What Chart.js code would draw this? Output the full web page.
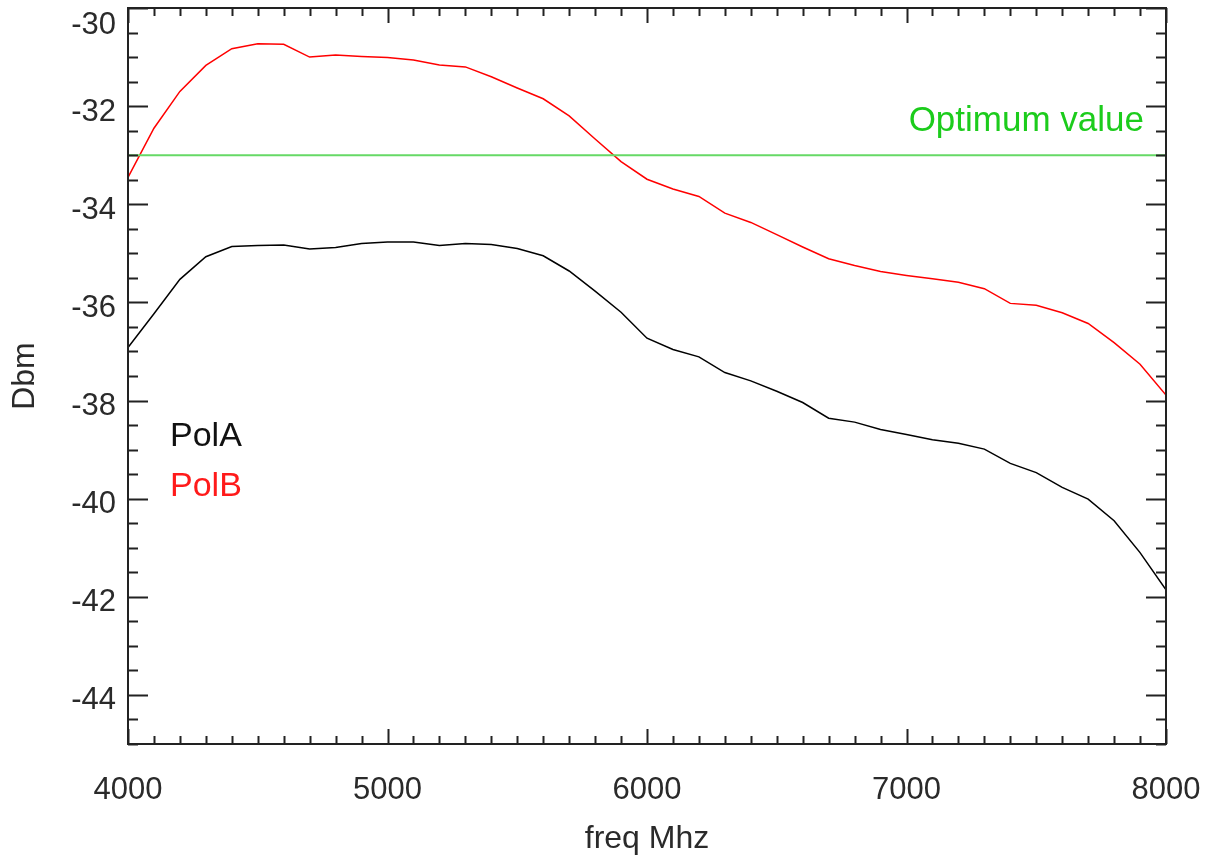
<!DOCTYPE html>
<html lang="en">
  <head>
    <meta charset="UTF-8" />
    <title>PolA / PolB power vs frequency</title>
    <script src="https://cdn.jsdelivr.net/npm/chart.js"></script>
    <style>
      html, body { margin: 0; padding: 0; background: #fff; }
      canvas { display: block; }
    </style>
  </head>
  <body>
    <canvas id="powerChart" width="1216" height="861"></canvas>

    <script>
    const freqs = [4000, 4100, 4200, 4300, 4400, 4500, 4600, 4700, 4800, 4900,
                   5000, 5100, 5200, 5300, 5400, 5500, 5600, 5700, 5800, 5900,
                   6000, 6100, 6200, 6300, 6400, 6500, 6600, 6700, 6800, 6900,
                   7000, 7100, 7200, 7300, 7400, 7500, 7600, 7700, 7800, 7900, 8000];

    const polA = [-36.92, -36.23, -35.53, -35.07, -34.86, -34.84, -34.83, -34.91, -34.88, -34.80,
                  -34.77, -34.77, -34.84, -34.80, -34.82, -34.90, -35.05, -35.36, -35.77, -36.20,
                  -36.73, -36.96, -37.11, -37.43, -37.60, -37.81, -38.04, -38.36, -38.44, -38.59,
                  -38.69, -38.80, -38.87, -38.99, -39.28, -39.47, -39.77, -40.01, -40.45, -41.10, -41.86];

    const polB = [-33.45, -32.45, -31.70, -31.17, -30.83, -30.73, -30.74, -31.00, -30.96, -30.99,
                  -31.01, -31.06, -31.16, -31.20, -31.40, -31.63, -31.85, -32.20, -32.67, -33.13,
                  -33.49, -33.69, -33.84, -34.18, -34.37, -34.62, -34.87, -35.11, -35.25, -35.37,
                  -35.45, -35.52, -35.59, -35.72, -36.02, -36.06, -36.21, -36.43, -36.82, -37.26, -37.89];

    const optimumValue = -33;

    const xTicks = [4000, 5000, 6000, 7000, 8000];
    const yTicks = [-30, -32, -34, -36, -38, -40, -42, -44];

    const FONT = '"Liberation Sans", Arial, Helvetica, sans-serif';

    const toPoints = (ys) => ys.map((y, i) => ({x: freqs[i], y: y}));

    // frame, inward ticks on all four sides, labels and texts
    const idlFrame = {
        id: 'idlFrame',
        afterDraw(chart) {
            const {ctx, chartArea: {top, bottom, left, right}, scales: {x, y}} = chart;
            ctx.save();

            ctx.strokeStyle = '#222';
            ctx.lineWidth = 2;
            ctx.strokeRect(left, top, right - left, bottom - top);

            // x ticks: major every 1000, minor every 100
            ctx.beginPath();
            for (let f = x.min; f <= x.max + 1; f += 100) {
                const px = Math.round(x.getPixelForValue(f)) + 0.5;
                const len = (f % 1000 === 0) ? 15 : 8;
                ctx.moveTo(px, bottom); ctx.lineTo(px, bottom - len);
                ctx.moveTo(px, top); ctx.lineTo(px, top + len);
            }
            // y ticks: major every 2, minor every 0.5
            for (let v = y.min; v <= y.max + 0.01; v += 0.5) {
                const py = Math.round(y.getPixelForValue(v)) + 0.5;
                const len = (Math.abs(v % 2) < 0.01) ? 20 : 10;
                ctx.moveTo(left, py); ctx.lineTo(left + len, py);
                ctx.moveTo(right, py); ctx.lineTo(right - len, py);
            }
            ctx.stroke();

            // tick labels
            ctx.fillStyle = '#2a2a2a';
            ctx.font = '31px ' + FONT;
            ctx.textAlign = 'center';
            ctx.textBaseline = 'middle';
            xTicks.forEach(f => {
                ctx.fillText(String(f), x.getPixelForValue(f), bottom + 46);
            });
            ctx.textAlign = 'right';
            yTicks.forEach(v => {
                const py = Math.max(y.getPixelForValue(v) + 6, top + 17);
                ctx.fillText(String(v), left - 12, py);
            });

            // axis titles
            ctx.font = '32px ' + FONT;
            ctx.textAlign = 'center';
            ctx.textBaseline = 'alphabetic';
            ctx.fillText('freq Mhz', (left + right) / 2, 848);
            ctx.save();
            ctx.translate(34, (top + bottom) / 2);
            ctx.rotate(-Math.PI / 2);
            ctx.fillText('Dbm', 0, 0);
            ctx.restore();

            // series labels
            ctx.font = '34px ' + FONT;
            ctx.textAlign = 'left';
            ctx.fillStyle = '#111';
            ctx.fillText('PolA', 170, 446);
            ctx.fillStyle = '#ff1a1a';
            ctx.fillText('PolB', 170, 496);

            // optimum label
            ctx.font = '35px ' + FONT;
            ctx.textAlign = 'right';
            ctx.fillStyle = '#1ccc1c';
            ctx.fillText('Optimum value', 1144, 131);

            ctx.restore();
        }
    };

    new Chart(document.getElementById('powerChart').getContext('2d'), {
        type: 'line',
        data: {
            datasets: [
                {
                    label: 'Optimum value',
                    data: [{x: freqs[0], y: optimumValue}, {x: freqs[freqs.length - 1], y: optimumValue}],
                    borderColor: '#66d966',
                    borderWidth: 2,
                    pointRadius: 0,
                },
                {
                    label: 'PolA',
                    data: toPoints(polA),
                    borderColor: '#000',
                    borderWidth: 1.5,
                    pointRadius: 0,
                    tension: 0,
                },
                {
                    label: 'PolB',
                    data: toPoints(polB),
                    borderColor: '#ff0000',
                    borderWidth: 1.5,
                    pointRadius: 0,
                    tension: 0,
                },
            ]
        },
        options: {
            responsive: false,
            animation: false,
            devicePixelRatio: 1,
            layout: {
                padding: {left: 128, top: 8, right: 50, bottom: 117}
            },
            scales: {
                x: {type: 'linear', min: 4000, max: 8000, display: false},
                y: {type: 'linear', min: -45, max: -30, display: false},
            },
            plugins: {
                legend: {display: false},
                tooltip: {enabled: false},
            },
        },
        plugins: [idlFrame]
    });
    </script>
  </body>
</html>
